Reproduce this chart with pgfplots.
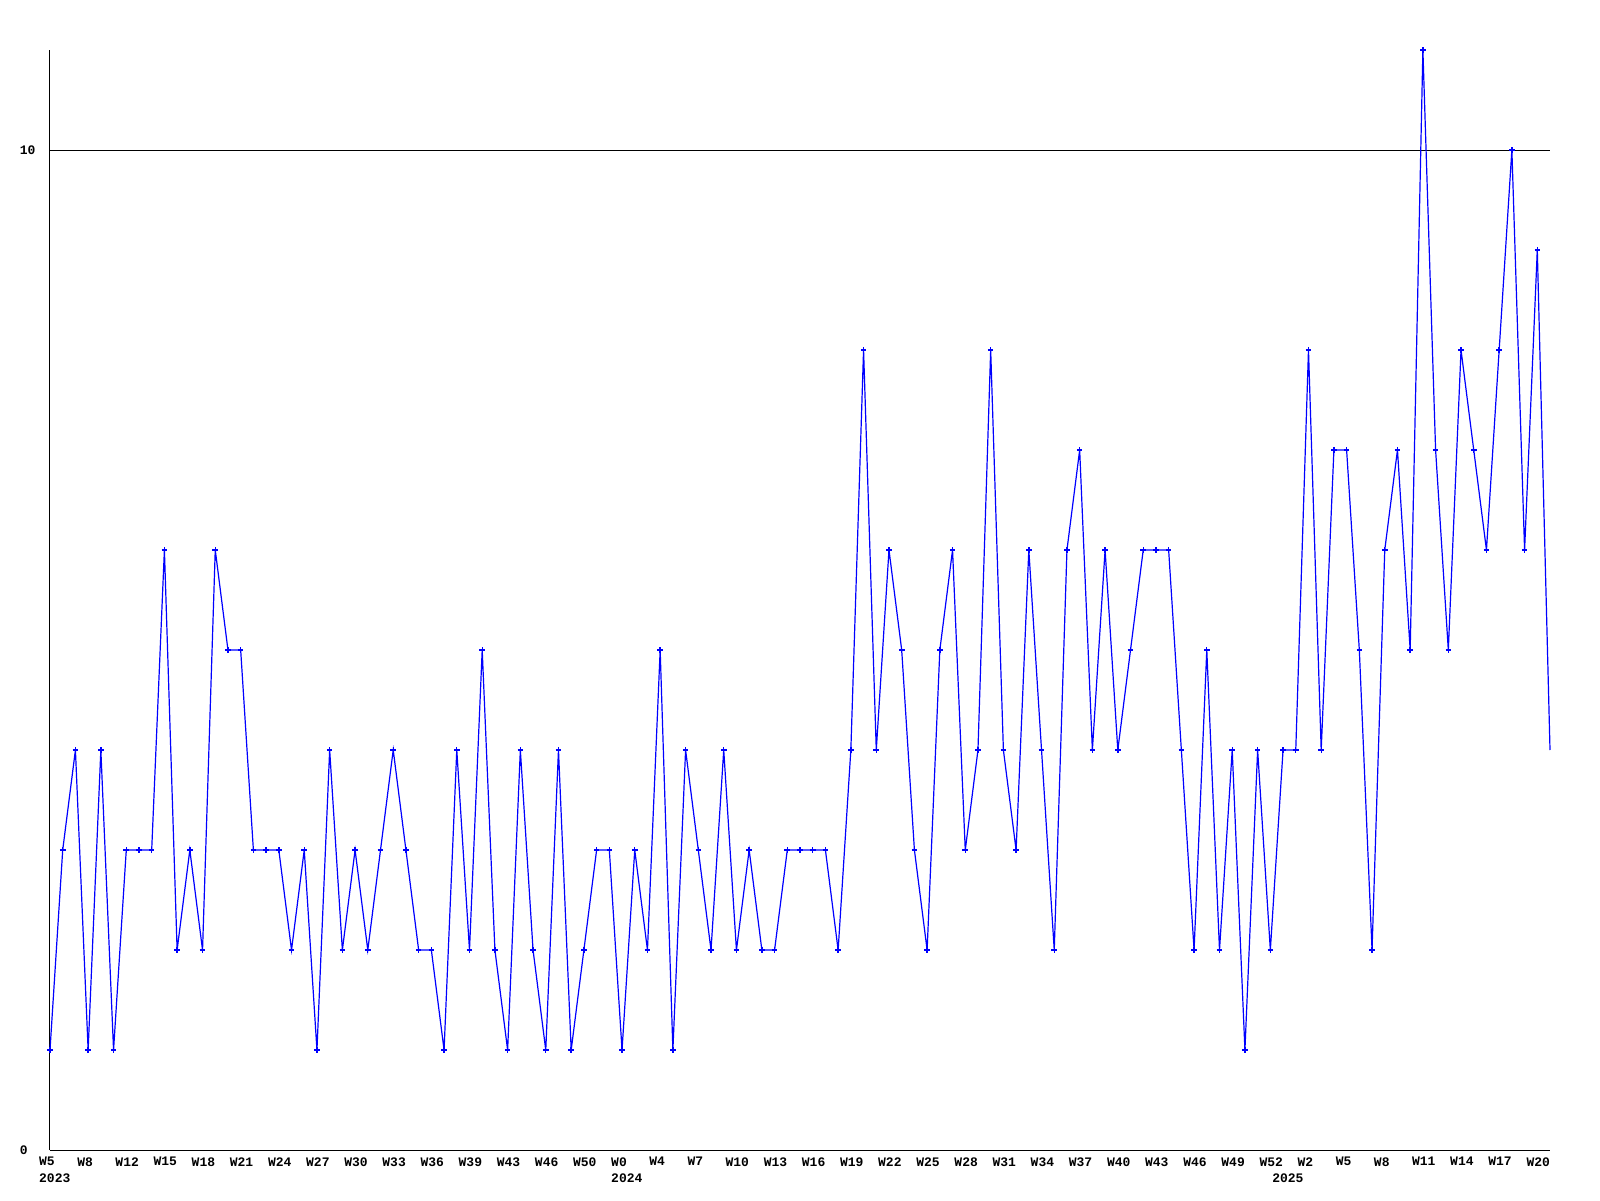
\documentclass[border=0pt]{standalone}
\usepackage{fontspec}
\setmonofont{Liberation Mono}
\usepackage{pgfplots}
\pgfplotsset{compat=1.18}
\definecolor{lineblue}{RGB}{0,0,255}
\begin{document}
\begin{tikzpicture}
\useasboundingbox (-25pt,-25pt) rectangle (775pt,575pt);
\begin{axis}[
  scale only axis,
  width=750pt, height=550pt,
  at={(0,0)}, anchor=south west,
  xmin=0, xmax=118, ymin=0, ymax=11,
  enlargelimits=false,
  clip=false,
  axis x line=bottom, axis y line=left,
  axis line style={-, black, line width=0.5pt},
  xtick={0,3,...,117},
  xticklabels={W5,W8,W12,W15,W18,W21,W24,W27,W30,W33,W36,W39,W43,W46,W50,W0,W4,W7,W10,W13,W16,W19,W22,W25,W28,W31,W34,W37,W40,W43,W46,W49,W52,W2,W5,W8,W11,W14,W17,W20},
  extra x ticks={0,45,97},
  extra x tick labels={2023,2024,2025},
  extra x tick style={xticklabel style={yshift=-8pt}},
  ytick={0,10},
  ymajorgrids,
  grid style={black, line width=0.4pt},
  major tick length=0pt,
  tick style={draw=none},
  /pgf/number format/assume math mode=true,
  tick label style={font=\ttfamily\bfseries\fontsize{6.5}{7}\selectfont, inner sep=0pt},
  xticklabel style={anchor=north west, xshift=-5.6pt, yshift=-3.5pt},
  yticklabel style={anchor=west, xshift=-15.3pt},
]
\addplot[color=lineblue, line width=0.6pt, mark=+, mark size=1.4pt, mark options={line width=0.7pt}] coordinates {
(0,1) (1,3) (2,4) (3,1) (4,4) (5,1) (6,3) (7,3) (8,3) (9,6)
(10,2) (11,3) (12,2) (13,6) (14,5) (15,5) (16,3) (17,3) (18,3) (19,2)
(20,3) (21,1) (22,4) (23,2) (24,3) (25,2) (26,3) (27,4) (28,3) (29,2)
(30,2) (31,1) (32,4) (33,2) (34,5) (35,2) (36,1) (37,4) (38,2) (39,1)
(40,4) (41,1) (42,2) (43,3) (44,3) (45,1) (46,3) (47,2) (48,5) (49,1)
(50,4) (51,3) (52,2) (53,4) (54,2) (55,3) (56,2) (57,2) (58,3) (59,3)
(60,3) (61,3) (62,2) (63,4) (64,8) (65,4) (66,6) (67,5) (68,3) (69,2)
(70,5) (71,6) (72,3) (73,4) (74,8) (75,4) (76,3) (77,6) (78,4) (79,2)
(80,6) (81,7) (82,4) (83,6) (84,4) (85,5) (86,6) (87,6) (88,6) (89,4)
(90,2) (91,5) (92,2) (93,4) (94,1) (95,4) (96,2) (97,4) (98,4) (99,8)
(100,4) (101,7) (102,7) (103,5) (104,2) (105,6) (106,7) (107,5) (108,11) (109,7)
(110,5) (111,8) (112,7) (113,6) (114,8) (115,10) (116,6) (117,9)
};
\addplot[color=lineblue, line width=0.6pt, no marks] coordinates {(117,9) (118,4)};
\end{axis}
\end{tikzpicture}
\end{document}
